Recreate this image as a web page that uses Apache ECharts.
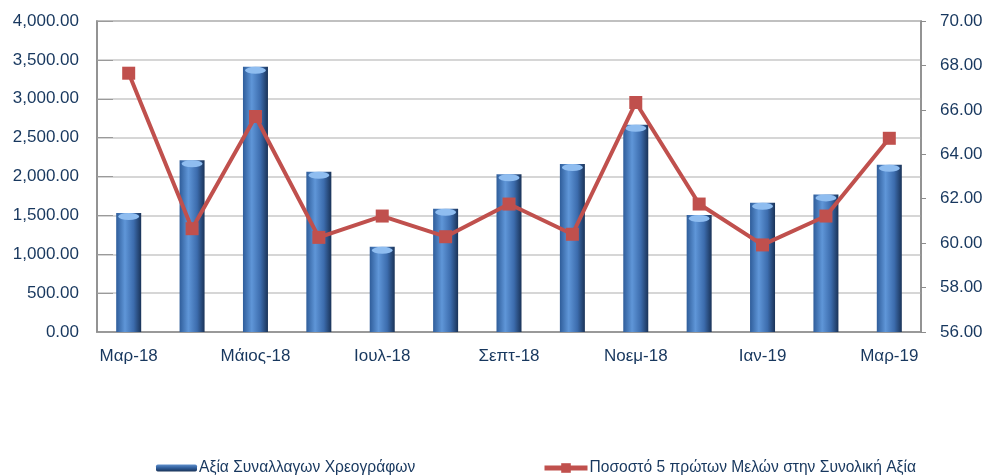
<!DOCTYPE html>
<html>
<head>
<meta charset="utf-8">
<script src="https://cdn.jsdelivr.net/npm/echarts@6/dist/echarts.min.js"></script>
<style>html,body{margin:0;padding:0;background:#fff;}#c{width:988px;height:476px;}</style>
</head>
<body>
<div id="c"></div>
<script>
const categories = ['Μαρ-18','Απρ-18','Μάιος-18','Ιουν-18','Ιουλ-18','Αυγ-18','Σεπτ-18','Οκτ-18','Νοεμ-18','Δεκ-18','Ιαν-19','Φεβ-19','Μαρ-19'];
const tradeValue = [1530, 2210, 3410, 2060, 1095, 1585, 2030, 2160, 2665, 1505, 1663, 1770, 2150];
const top5Share = [67.65, 60.65, 65.7, 60.26, 61.22, 60.29, 61.76, 60.4, 66.33, 61.76, 59.92, 61.22, 64.72];
const barName = 'Αξία Συναλλαγων Χρεογράφων';
const lineName = 'Ποσοστό 5 πρώτων Μελών στην Συνολική Αξία';

const navy = '#17375e';
const font = 'Liberation Sans';
const red = '#c0504d';
const chart = echarts.init(document.getElementById('c'), null, {renderer: 'canvas'});
const barGrad = new echarts.graphic.LinearGradient(0, 0, 1, 0, [
  {offset: 0, color: '#2f5d9a'},
  {offset: 0.35, color: '#5f96d8'},
  {offset: 0.7, color: '#3c6cad'},
  {offset: 1, color: '#1a3358'}
]);
const legendText = {color: navy, fontFamily: font, fontSize: 15.6, padding: [0, 0, 0, -3]};
chart.setOption({
  animation: false,
  grid: {left: 97, right: 67, top: 21, bottom: 144, show: true, borderColor: '#8c8c8c', borderWidth: 1.5, backgroundColor: '#fff'},
  legend: [{
    data: [{name: barName, itemStyle: {color: new echarts.graphic.LinearGradient(0, 0, 0, 1, [
      {offset: 0, color: '#5f8fcc'}, {offset: 0.5, color: '#2f5d9a'}, {offset: 1, color: '#1a3358'}])}}],
    left: 151, top: 455,
    itemWidth: 41, itemHeight: 7,
    textStyle: legendText
  }, {
    data: [{name: lineName, lineStyle: {width: 5, color: red}, itemStyle: {color: red}}],
    left: 537, top: 455,
    itemWidth: 43, itemHeight: 12,
    textStyle: legendText
  }],
  xAxis: {
    type: 'category', data: categories,
    axisLine: {lineStyle: {color: '#8c8c8c', width: 1.5}},
    axisTick: {show: false},
    axisLabel: {interval: 1, color: navy, fontFamily: font, fontSize: 17, margin: 16}
  },
  yAxis: [{
    type: 'value', min: 0, max: 4000, interval: 500,
    axisLine: {show: true, lineStyle: {color: '#8c8c8c', width: 1.5}},
    axisTick: {show: true, inside: true, length: 16, lineStyle: {color: '#9a9a9a'}},
    splitLine: {lineStyle: {color: '#c8c8c8', width: 1.5}},
    axisLabel: {color: navy, fontFamily: font, fontSize: 17, margin: 18,
      formatter: v => v.toLocaleString('en-US', {minimumFractionDigits: 2, maximumFractionDigits: 2})}
  }, {
    type: 'value', min: 56, max: 70, interval: 2,
    axisLine: {show: true, lineStyle: {color: '#8c8c8c', width: 1.5}},
    axisTick: {show: true, length: 5, lineStyle: {color: '#8c8c8c'}},
    splitLine: {show: false},
    axisLabel: {color: navy, fontFamily: font, fontSize: 17, margin: 19, formatter: v => v.toFixed(2)}
  }],
  series: [{
    name: barName, type: 'bar', data: tradeValue, barWidth: 25,
    itemStyle: {color: barGrad}, z: 2
  }, {
    name: 'cap', type: 'pictorialBar', data: tradeValue, symbol: 'circle',
    symbolSize: [21, 7], symbolPosition: 'end', symbolOffset: [0, 0],
    itemStyle: {color: '#8fbdf0'}, z: 3, silent: true
  }, {
    name: lineName, type: 'line', yAxisIndex: 1, data: top5Share,
    symbol: 'rect', symbolSize: 13,
    lineStyle: {color: red, width: 4},
    itemStyle: {color: red}, z: 5
  }]
});
</script>
</body>
</html>
